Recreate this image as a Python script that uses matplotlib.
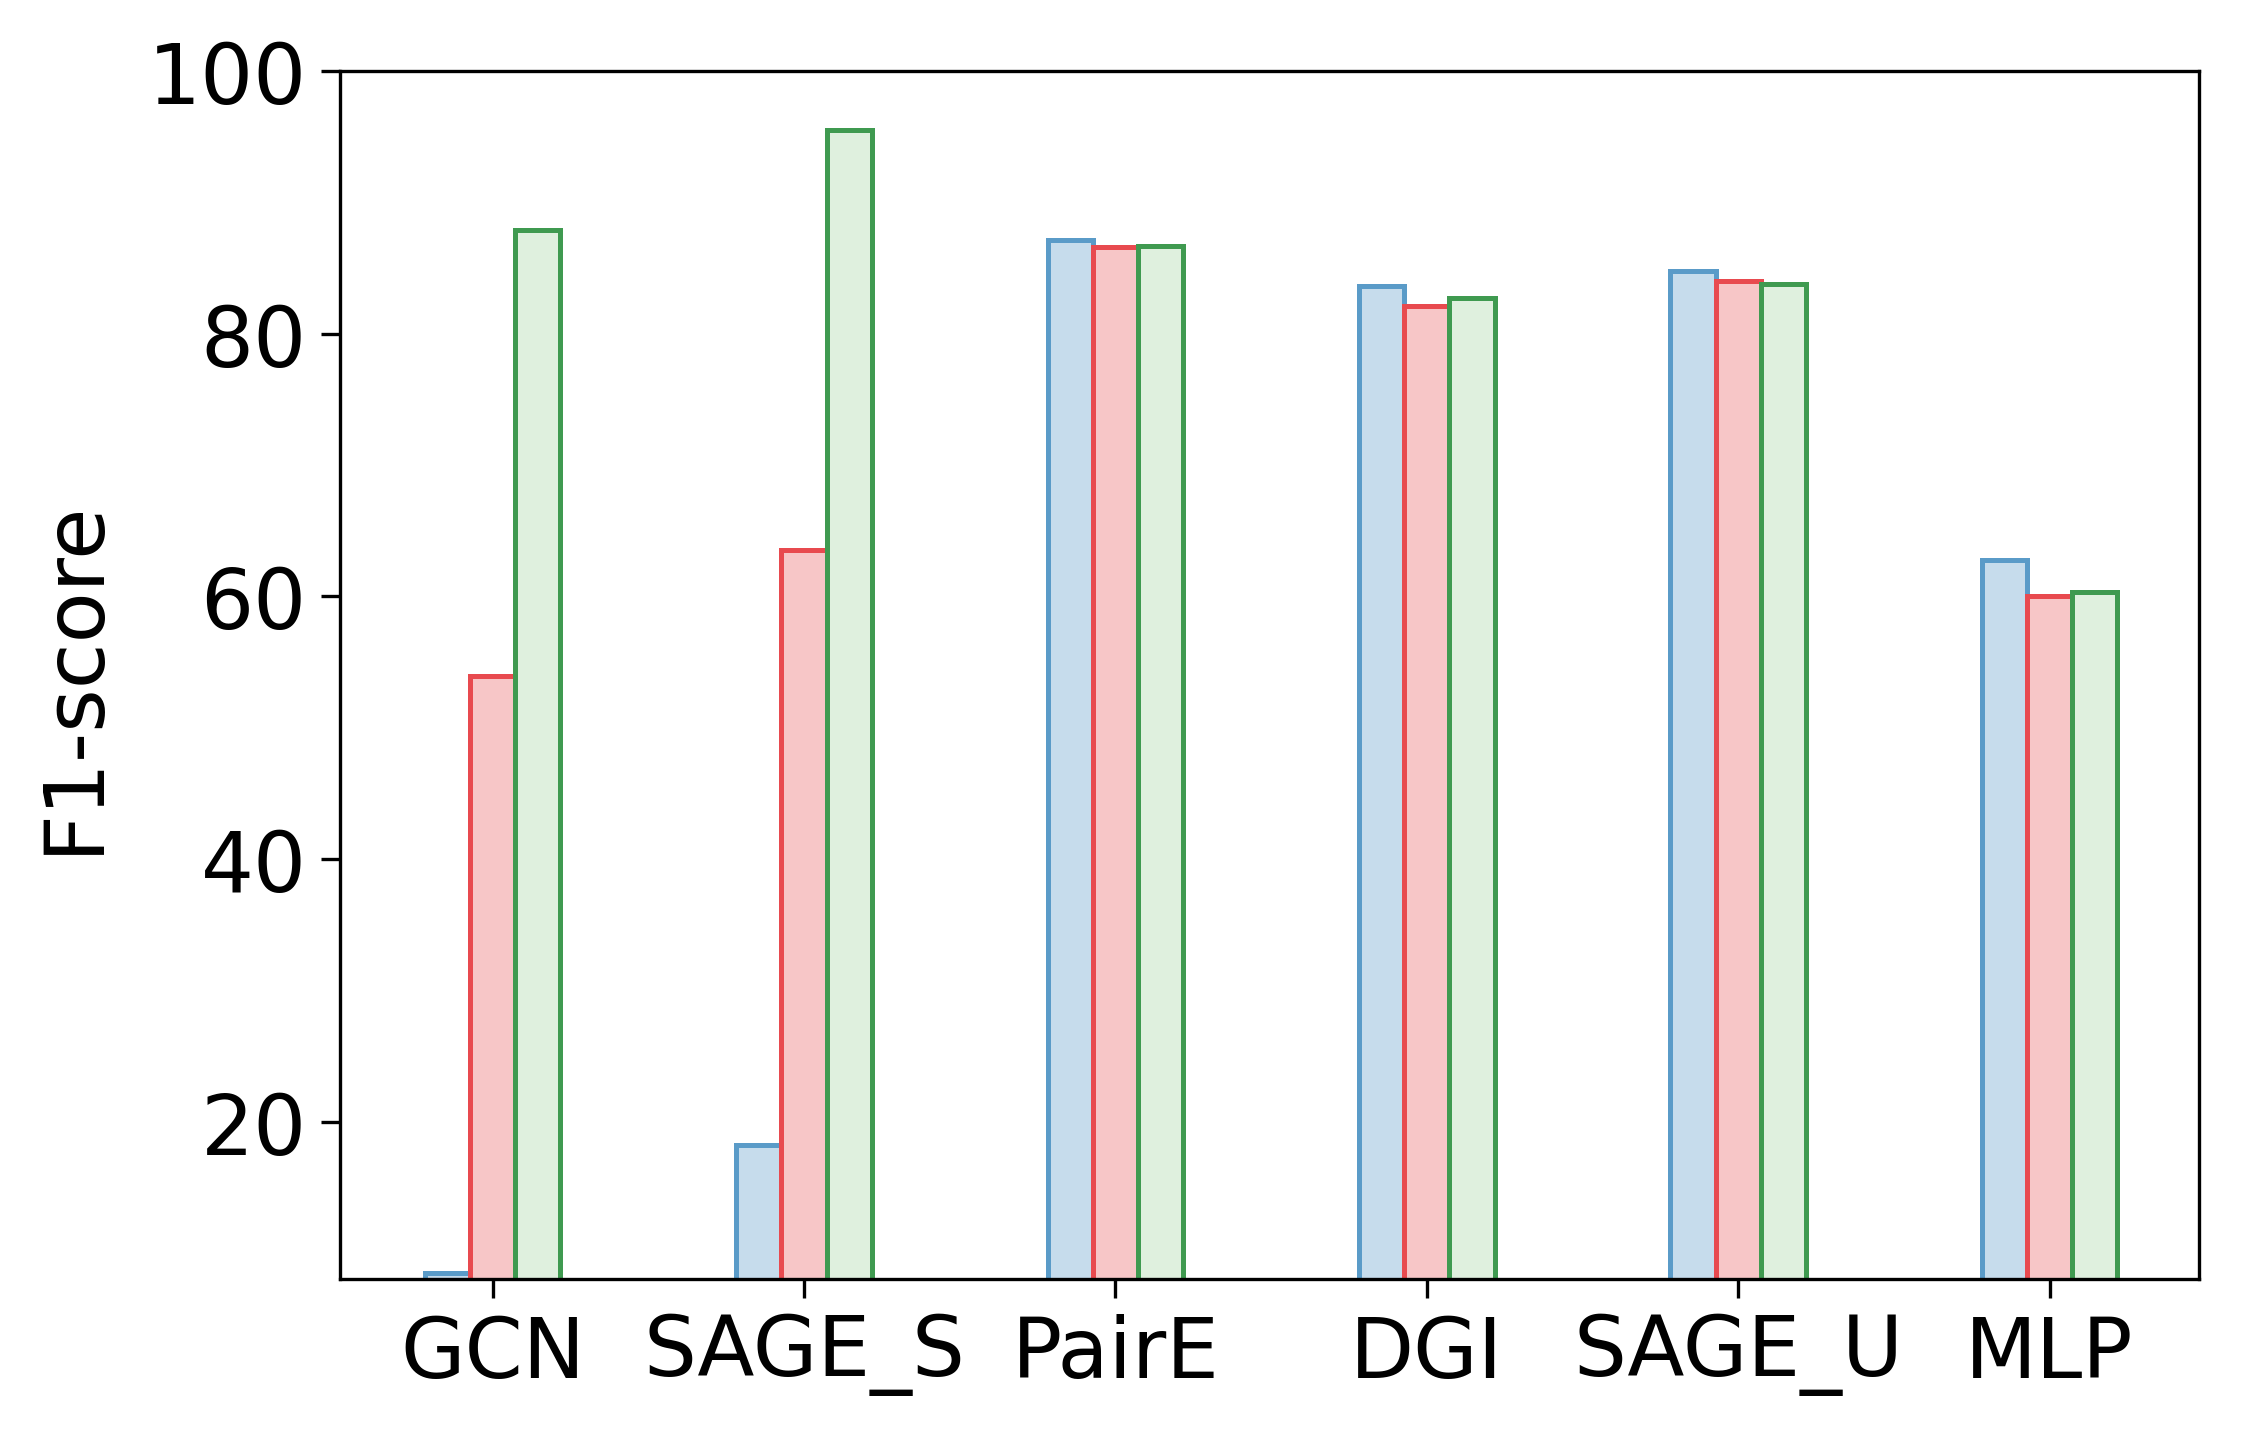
import matplotlib
matplotlib.use("Agg")
import matplotlib.pyplot as plt
import numpy as np

# data
models = ["GCN", "SAGE_S", "PairE", "DGI", "SAGE_U", "MLP"]
series_a = [8.5, 18.2, 87.1, 83.6, 84.8, 62.8]
series_b = [53.9, 63.5, 86.6, 82.1, 84.0, 60.0]
series_c = [87.9, 95.5, 86.7, 82.7, 83.8, 60.3]

edge_colors = ["#5a9bc8", "#e84a4f", "#3f9a50"]
fill_colors = ["#c6dcec", "#f7c6c7", "#dff0de"]

plt.rcParams["font.family"] = ["DejaVu Sans"]

fig = plt.figure(figsize=(7.47, 4.803), dpi=300)
ax = fig.add_axes([0.1517, 0.1114, 0.8296, 0.8388])

x = np.arange(len(models))
width = 0.145
for i, vals in enumerate([series_a, series_b, series_c]):
    ax.bar(x + (i - 1) * width, vals, width,
           color=fill_colors[i], edgecolor=edge_colors[i], linewidth=1.2)

ax.set_xticks(x)
ax.set_xticklabels(models, fontsize=20)
ax.set_yticks([20, 40, 60, 80, 100])
ax.tick_params(axis="y", labelsize=20, length=4.5)
ax.tick_params(axis="x", length=4.5)
ax.set_ylim(8, 100)
ax.set_xlim(-0.49, 5.48)
ax.set_ylabel("F1-score", fontsize=20, labelpad=8)

fig.savefig("out.png", dpi=300)
